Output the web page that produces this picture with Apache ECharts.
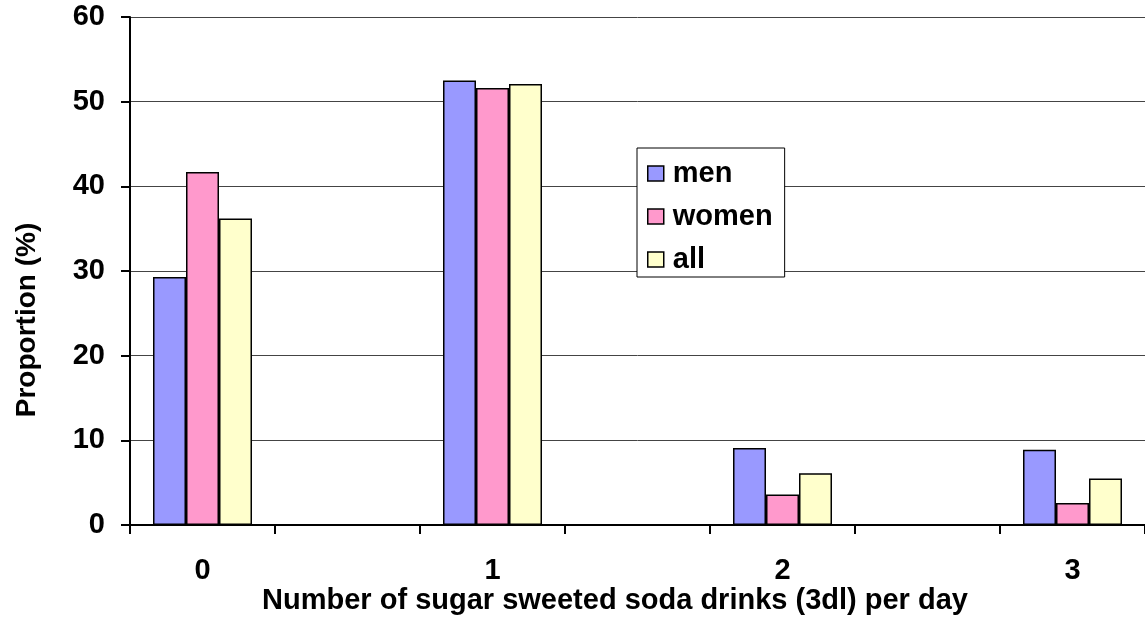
<!DOCTYPE html>
<html>
<head>
<meta charset="utf-8">
<title>Sugar sweetened soda drinks</title>
<script src="https://cdn.jsdelivr.net/npm/echarts@6/dist/echarts.min.js"></script>
<style>
  html, body { margin: 0; padding: 0; background: #fff; }
  #chart { width: 1145px; height: 622px; }
</style>
</head>
<body>
<div id="chart"></div>
<script>
// Drinks per day (3dl servings) and share of respondents in each group (%)
const drinks = ['0', '1', '2', '3'];
const men = [29.3, 52.5, 9.1, 8.9];
const women = [41.7, 51.6, 3.6, 2.6];
const all = [36.2, 52.1, 6.1, 5.5];
const yTicks = [0, 10, 20, 30, 40, 50, 60];

const FONT = '"Liberation Sans", Arial, sans-serif';

// Each drink count sits in its own slot, separated by empty slots
const slots = [];
drinks.forEach((d, i) => {
  slots.push(d);
  if (i < drinks.length - 1) slots.push('');
});
function spread(values) {
  const out = [];
  values.forEach((v, i) => {
    out.push(v);
    if (i < values.length - 1) out.push('-');
  });
  return out;
}

const colors = { men: '#9999FF', women: '#FF99CC', all: '#FFFFCC' };

function barSeries(name, values) {
  return {
    name: name,
    type: 'bar',
    data: spread(values),
    barWidth: 33,
    barGap: '0%',
    itemStyle: { color: colors[name], borderColor: '#000', borderWidth: 1.5 },
    emphasis: { disabled: true }
  };
}

const chart = echarts.init(document.getElementById('chart'), null, { renderer: 'canvas' });
chart.setOption({
  animation: false,
  backgroundColor: '#fff',
  grid: { left: 130, top: 17, width: 1020, height: 508, containLabel: false },
  legend: {
    orient: 'vertical',
    left: 637,
    top: 148,
    data: ['men', 'women', 'all'],
    backgroundColor: '#fff',
    borderColor: '#000',
    borderWidth: 1,
    padding: [11, 12, 3, 10],
    itemWidth: 16,
    itemHeight: 15,
    itemGap: 14,
    icon: 'rect',
    itemStyle: { borderColor: '#000', borderWidth: 1.5 },
    textStyle: { fontFamily: FONT, fontWeight: 'bold', fontSize: 29, color: '#000', lineHeight: 29, padding: [0, 0, 0, 4] }
  },
  xAxis: {
    type: 'category',
    data: slots,
    boundaryGap: true,
    axisLine: { lineStyle: { color: '#000', width: 2 } },
    axisTick: { show: true, alignWithLabel: false, length: 9, lineStyle: { color: '#000', width: 2 } },
    axisLabel: { interval: 0, margin: 31, fontFamily: FONT, fontWeight: 'bold', fontSize: 29, color: '#000' },
    splitLine: { show: false }
  },
  yAxis: {
    type: 'value',
    min: yTicks[0],
    max: yTicks[yTicks.length - 1],
    interval: yTicks[1] - yTicks[0],
    axisLine: { show: true, lineStyle: { color: '#000', width: 2 } },
    axisTick: { show: true, length: 9, lineStyle: { color: '#000', width: 2 } },
    axisLabel: { margin: 25, fontFamily: FONT, fontWeight: 'bold', fontSize: 29, color: '#000' },
    splitLine: { show: true, lineStyle: { color: '#444', width: 1 } }
  },
  graphic: [
    {
      type: 'text',
      x: 615, y: 601,
      style: {
        text: 'Number of sugar sweeted soda drinks (3dl) per day',
        x: 0, y: 0,
        align: 'center', verticalAlign: 'middle',
        font: 'bold 29px ' + FONT,
        fill: '#000'
      }
    },
    {
      type: 'text',
      x: 27, y: 320,
      rotation: Math.PI / 2,
      style: {
        text: 'Proportion (%)',
        x: 0, y: 0,
        align: 'center', verticalAlign: 'middle',
        font: 'bold 28px ' + FONT,
        fill: '#000'
      }
    }
  ],
  series: [
    barSeries('men', men),
    barSeries('women', women),
    barSeries('all', all)
  ]
});
</script>
</body>
</html>
